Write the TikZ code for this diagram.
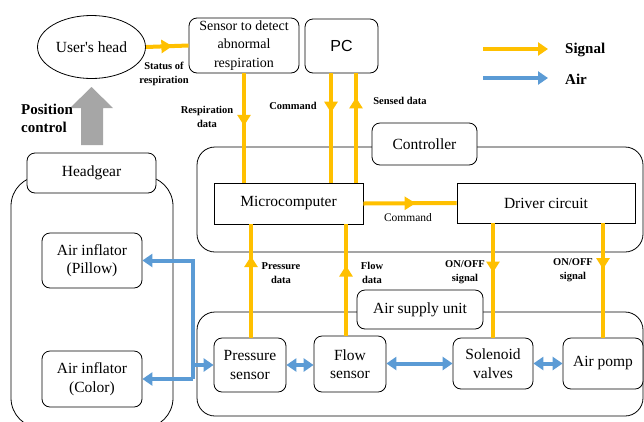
\documentclass[tikz,border=0pt]{standalone}
\usepackage{fontspec}
\setmainfont{Liberation Serif}
\newfontfamily\pcfont{Liberation Sans}
\newfontfamily\rawserif{Liberation Serif}[Ligatures=TeXOff]
\usetikzlibrary{arrows.meta,shapes.geometric,decorations.markings}
\definecolor{sig}{HTML}{FFC000}
\definecolor{airc}{HTML}{5B9BD5}
\definecolor{grayarr}{HTML}{A6A6A6}
\tikzset{
  grp/.style={draw, line width=0.8pt, inner sep=0pt},
  box/.style={draw, rounded corners=8pt, line width=0.8pt, fill=white, align=center,
    inner sep=0pt, font=\fontsize{15.5}{18.5}\selectfont},
  sqbox/.style={box, rounded corners=0pt},
  lbl/.style={font=\fontsize{10.5}{14}\selectfont\bfseries, align=center, inner sep=0pt},
  sigline/.style={draw=sig, line width=4pt, postaction={decorate},
    decoration={markings, mark=at position #1 with {\arrow[sig]{Triangle[width=13pt,length=11pt]}}}},
  airline/.style={draw=airc, line width=4pt},
  atip/.style={-{Triangle[width=13pt,length=10pt]}},
  dtip/.style={{Triangle[width=13pt,length=10pt]}-{Triangle[width=13pt,length=10pt]}},
}
\begin{document}
\begin{tikzpicture}[x=1pt,y=-1pt]
\useasboundingbox (0,0) rectangle (644,421);
\clip (0,0) rectangle (644,421);

% group frames
\node[grp, rounded corners=30pt, minimum width=162pt, minimum height=252pt] (hgframe) at (92,302) {};
\node[grp, rounded corners=18pt, minimum width=446pt, minimum height=105pt] (ctrlframe) at (420,199.5) {};
\node[grp, rounded corners=18pt, minimum width=446pt, minimum height=104pt] (airframe) at (420,364) {};

% tabs
\node[box, minimum width=129pt, minimum height=40pt] (hgtab) at (91.5,173) {Headgear};
\node[box, minimum width=105pt, minimum height=42pt] (ctrltab) at (424.5,144) {Controller};
\node[box, minimum width=126pt, minimum height=39pt] (airtab) at (420,309.5) {Air supply unit};

% top row
\node[ellipse, draw, line width=0.8pt, inner sep=0pt, minimum width=108pt, minimum height=63pt,
  font=\fontsize{15.5}{18.5}\rawserif] (head) at (91.5,47) {User's head};
\node[box, minimum width=110pt, minimum height=55pt, font=\fontsize{14}{18.5}\selectfont] (sensor) at (244,45.5)
  {Sensor to detect\\abnormal\\respiration};
\node[box, minimum width=73pt, minimum height=54pt, font=\fontsize{16}{18}\selectfont\pcfont] (pc) at (341.5,46) {PC};

% controller
\node[sqbox, minimum width=149pt, minimum height=41pt] (micro) at (288.5,203.5) {Microcomputer};
\node[sqbox, minimum width=178pt, minimum height=40pt] (driver) at (546,203) {Driver circuit};

% headgear
\node[box, minimum width=100pt, minimum height=55pt] (pillow) at (92,260.5) {Air inflator\\(Pillow)};
\node[box, minimum width=100pt, minimum height=56pt] (color) at (92,379) {Air inflator\\(Color)};

% air supply
\node[box, minimum width=72pt, minimum height=54pt] (press) at (250,365) {Pressure\\sensor};
\node[box, minimum width=72pt, minimum height=56pt] (flow) at (350,364) {Flow\\sensor};
\node[box, minimum width=80pt, minimum height=51pt] (sol) at (493,363.5) {Solenoid\\valves};
\node[box, minimum width=80pt, minimum height=51pt] (pomp) at (603,363.5) {Air pomp};

% position control arrow
\fill[grayarr] (81,145) -- (81,108) -- (70,108) -- (91.5,87) -- (113,108) -- (103,108) -- (103,145) -- cycle;
\node[anchor=north west, align=left, inner sep=0pt, font=\fontsize{15}{18}\selectfont\bfseries] (poslbl) at (21,104)
  {Position\\control};

% signal lines
\draw[sigline=0.62] (head.east) -- (sensor.west);
\draw[sigline=0.48] (sensor.south) -- (sensor.south |- micro.north);
\coordinate (pcA) at ([xshift=-10.5pt]pc.south);
\coordinate (pcB) at ([xshift=14.5pt]pc.south);
\draw[sigline=0.36] (pcA) -- (pcA |- micro.north);
\draw[sigline=0.78] (pcB |- micro.north) -- (pcB);
\draw[sigline=0.56] (micro.east) -- (driver.west);
\coordinate (prA) at ([xshift=1pt]press.north);
\draw[sigline=0.72] (prA) -- (prA |- micro.south);
\coordinate (flA) at ([xshift=-4pt]flow.north);
\draw[sigline=0.63] (flA) -- (flA |- micro.south);
\draw[sigline=0.43] (sol.north |- driver.south) -- (sol.north);
\draw[sigline=0.40] (pomp.north |- driver.south) -- (pomp.north);

% air lines
\coordinate (jtop) at (193,260.5);
\coordinate (jmid) at (193,365);
\coordinate (jbot) at (193,379);
\draw[airline, atip] (jbot) -- (jtop) -- (pillow.east);
\draw[airline, atip] (jbot) -- (color.east);
\draw[airline, atip] (jmid) -- (press.west);
\draw[airline, dtip] (press.east) -- (press.east -| flow.west);
\draw[airline, dtip] (flow.east |- sol.west) -- (sol.west);
\draw[airline, dtip] (sol.east) -- (pomp.west);

% labels
\node[lbl] (l1) at (164,74) {Status of\\respiration};
\node[lbl] (l2) at (207,117) {Respiration\\data};
\node[lbl] (l3) at (293,106) {Command};
\node[lbl] (l4) at (400,101) {Sensed data};
\node[inner sep=0pt, font=\fontsize{11.5}{14}\selectfont] (l5) at (408,218) {Command};
\node[lbl] (l6) at (281,273) {Pressure\\data};
\node[lbl] (l7) at (372,273) {Flow\\data};
\node[lbl] (l8) at (465,272) {ON/OFF\\signal};
\node[lbl] (l9) at (573,270) {ON/OFF\\signal};

% legend
\coordinate (sgA) at (483,49);
\coordinate (sgB) at (548,49);
\coordinate (arA) at (483,78);
\coordinate (arB) at (548,78);
\draw[draw=sig, line width=4pt, atip] (sgA) -- (sgB);
\draw[airline, atip] (arA) -- (arB);
\node[anchor=west, inner sep=0pt, font=\fontsize{15}{18}\selectfont\bfseries] (lgs) at (565,50) {Signal};
\node[anchor=west, inner sep=0pt, font=\fontsize{15}{18}\selectfont\bfseries] (lga) at (565,79) {Air};
\end{tikzpicture}
\end{document}
